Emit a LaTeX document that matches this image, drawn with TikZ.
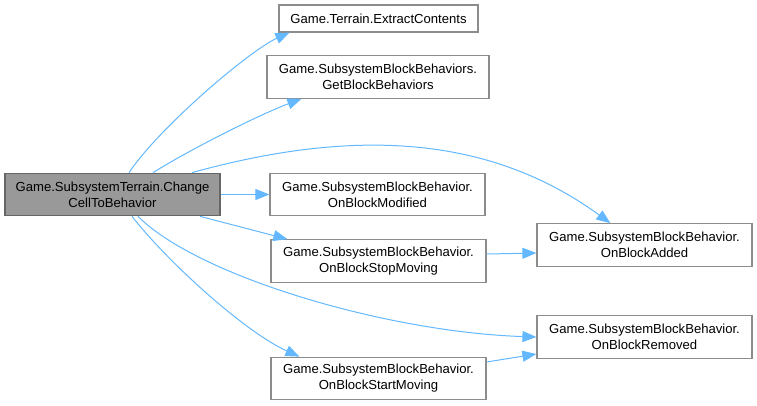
\documentclass[tikz,border=0pt]{standalone}
\usepackage{fontspec}
\setmainfont{Liberation Sans}
\usetikzlibrary{arrows.meta}
\definecolor{boxline}{HTML}{8C8C8C}
\definecolor{rootfill}{HTML}{999999}
\definecolor{rootline}{HTML}{666666}
\definecolor{callline}{HTML}{63B8FF}
\begin{document}
\begin{tikzpicture}
  [x=1pt, y=1pt, font=\fontsize{13.1}{16.2}\selectfont,
   fnbox/.style={draw=boxline, line width=1.2pt, fill=white, align=center,
     inner sep=0pt, minimum width=215pt, minimum height=42.5pt},
   rootbox/.style={fnbox, draw=rootline, fill=rootfill},
   call/.style={draw=callline, line width=1pt, -{Triangle[length=14pt,width=11pt]}}]

\useasboundingbox (0,0) rectangle (757,-405);

\node[rootbox] (root) at (112.5,-194.5) {Game.SubsystemTerrain.Change\\CellToBehavior};
\node[fnbox, minimum width=199pt, minimum height=27pt] (extract) at (378.5,-18.5) {Game.Terrain.ExtractContents};
\node[fnbox, minimum width=222pt] (getbeh) at (378,-77) {Game.SubsystemBlockBehaviors.\\GetBlockBehaviors};
\node[fnbox] (modified) at (377.5,-194.5) {Game.SubsystemBlockBehavior.\\OnBlockModified};
\node[fnbox] (stopmov) at (378.5,-261) {Game.SubsystemBlockBehavior.\\OnBlockStopMoving};
\node[fnbox] (startmov) at (378.5,-378.5) {Game.SubsystemBlockBehavior.\\OnBlockStartMoving};
\node[fnbox] (added) at (644.5,-245) {Game.SubsystemBlockBehavior.\\OnBlockAdded};
\node[fnbox] (removed) at (644.5,-337) {Game.SubsystemBlockBehavior.\\OnBlockRemoved};

\draw[call] ([xshift=16.5pt]root.north) .. controls +(30,45) and +(-40,-18) .. ([xshift=11pt]extract.south west);
\draw[call] ([xshift=40.5pt]root.north) .. controls +(40,25) and +(-40,-15) .. ([xshift=35pt]getbeh.south west);
\draw[call] ([xshift=79.5pt]root.north) .. controls +(180,50) and +(-110,80) .. ([xshift=74pt]added.north west);
\draw[call] (root.east) -- (modified.west);
\draw[call] ([xshift=87.5pt]root.south) -- ([xshift=17pt]stopmov.north west);
\draw[call] ([xshift=25.5pt]root.south) .. controls +(60,-60) and +(-150,5) .. (removed.west);
\draw[call] ([xshift=19.5pt]root.south) .. controls +(35,-45) and +(-55,25) .. ([xshift=29pt]startmov.north west);
\draw[call] ([yshift=7pt]stopmov.east) -- ([yshift=-8pt]added.west);
\draw[call] ([yshift=16.5pt]startmov.east) -- ([yshift=-17pt]removed.west);
\end{tikzpicture}
\end{document}
